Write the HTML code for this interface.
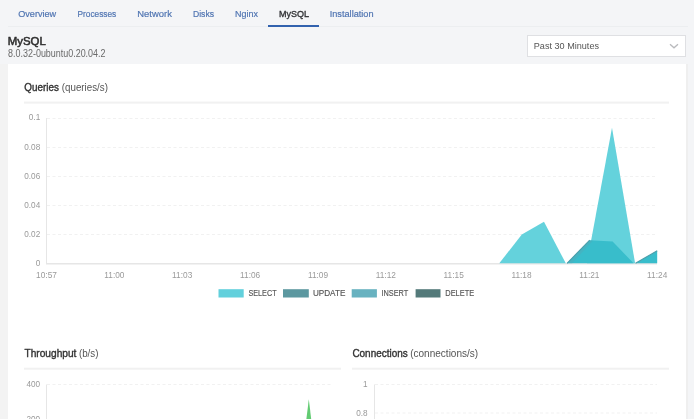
<!DOCTYPE html>
<html>
<head>
<meta charset="utf-8">
<style>
html,body{margin:0;padding:0;}
body{width:694px;height:419px;overflow:hidden;background:#f4f5f7;position:relative;font-family:"Liberation Sans",sans-serif;}
.abs{position:absolute;}
#tabline{left:8px;top:26px;width:680px;height:1px;background:#eceef0;}
#active{left:268px;top:25px;width:51px;height:2px;background:#3262ae;}
#wrap{left:0;top:64px;width:688px;height:360px;background:#f3f3f3;box-shadow:inset -2px 0 0 #efefef;}
#panel{left:8px;top:64px;width:678px;height:400px;background:#fff;}
#dd{left:527px;top:35px;width:157px;height:20px;background:#fff;border:1px solid #dfe0e3;}
svg{position:absolute;left:0;top:0;will-change:transform;}
</style>
</head>
<body>
<div class="abs" id="tabline"></div>
<div class="abs" id="active"></div>
<div class="abs" id="wrap"></div>
<div class="abs" id="panel"></div>
<div class="abs" id="dd"></div>
<svg width="694" height="419" viewBox="0 0 694 419" font-family="Liberation Sans, sans-serif">
  <!-- tabs -->
  <g font-size="9.7" fill="#5075b2" stroke="#5075b2" stroke-width="0.2">
    <text x="18.2" y="17.4" textLength="38" lengthAdjust="spacingAndGlyphs">Overview</text>
    <text x="77.5" y="17.4" textLength="38.7" lengthAdjust="spacingAndGlyphs">Processes</text>
    <text x="137.3" y="17.4" textLength="34.6" lengthAdjust="spacingAndGlyphs">Network</text>
    <text x="193" y="17.4" textLength="21" lengthAdjust="spacingAndGlyphs">Disks</text>
    <text x="235" y="17.4" textLength="22.9" lengthAdjust="spacingAndGlyphs">Nginx</text>
    <text x="279" y="17.4" textLength="30" lengthAdjust="spacingAndGlyphs" fill="#2f3033" stroke="#2f3033" stroke-width="0.35">MySQL</text>
    <text x="329.7" y="17.4" textLength="43.9" lengthAdjust="spacingAndGlyphs">Installation</text>
  </g>
  <!-- heading -->
  <text x="7.8" y="44.6" font-size="11.6" fill="#2e2e2e" stroke="#2e2e2e" stroke-width="0.55" textLength="38" lengthAdjust="spacingAndGlyphs">MySQL</text>
  <text x="8.1" y="56.8" font-size="10" fill="#6a6a6a" textLength="97.4" lengthAdjust="spacingAndGlyphs">8.0.32-0ubuntu0.20.04.2</text>
  <!-- dropdown -->
  <text x="533.8" y="48.6" font-size="9" fill="#555" textLength="65.2" lengthAdjust="spacingAndGlyphs">Past 30 Minutes</text>
  <path d="M670 44.2 L674 47.8 L678 44.2" fill="none" stroke="#b9babd" stroke-width="1.3"/>

  <!-- Queries chart -->
  <text x="24.3" y="90.6" font-size="10.7" fill="#333" stroke="#333" stroke-width="0.38" textLength="34.6" lengthAdjust="spacingAndGlyphs">Queries</text>
  <text x="61.8" y="90.6" font-size="10.7" fill="#555" textLength="46.1" lengthAdjust="spacingAndGlyphs">(queries/s)</text>
  <rect x="24" y="101.6" width="645" height="2" fill="#f1f1f1"/>

  <g stroke="#f1f1f1" stroke-width="1" stroke-dasharray="3 2.5">
    <line x1="47" y1="118.5" x2="657" y2="118.5"/>
    <line x1="47" y1="147.5" x2="657" y2="147.5"/>
    <line x1="47" y1="176.5" x2="657" y2="176.5"/>
    <line x1="47" y1="205.5" x2="657" y2="205.5"/>
    <line x1="47" y1="234.5" x2="657" y2="234.5"/>
  </g>
  <rect x="46" y="118" width="1" height="146" fill="#e6e6e6"/>
  <rect x="46" y="263" width="611" height="1.5" fill="#e6e6e6"/>

  <g font-size="8.2" fill="#999" text-anchor="end">
    <text x="40.2" y="119.9">0.1</text>
    <text x="40.2" y="149.7">0.08</text>
    <text x="40.2" y="178.7">0.06</text>
    <text x="40.2" y="207.7">0.04</text>
    <text x="40.2" y="237.2">0.02</text>
    <text x="40.2" y="266">0</text>
  </g>
  <g font-size="8.3" fill="#9a9a9a" text-anchor="middle">
    <text x="46.5" y="278">10:57</text>
    <text x="114.4" y="278">11:00</text>
    <text x="182.2" y="278">11:03</text>
    <text x="250.1" y="278">11:06</text>
    <text x="318" y="278">11:09</text>
    <text x="385.8" y="278">11:12</text>
    <text x="453.7" y="278">11:15</text>
    <text x="521.5" y="278">11:18</text>
    <text x="589.4" y="278">11:21</text>
    <text x="657.2" y="278">11:24</text>
  </g>

  <!-- areas -->
  <polygon points="499.3,263.3 521.8,234.4 544,221.8 565.8,263.3" fill="#64d2dc"/>
  <polygon points="586.9,263.3 612,127.8 635.1,263.3" fill="#64d2dc"/>
  <polygon points="567,263.3 589.7,240.2 612.6,241.6 633.6,263.3" fill="#38bdcb"/>
  <polygon points="567,263.3 589.7,240.2 593,240.4 572,263.3" fill="#55a9b9" opacity="0.45"/>
  <polyline points="567,263.3 589.7,240.2" fill="none" stroke="#4c9fab" stroke-width="1.1"/>
  <polygon points="635.5,263.3 657.2,250.7 657.2,263.3" fill="#38bdcb"/>
  <polyline points="635.5,263.3 657.2,250.7" fill="none" stroke="#4c9fab" stroke-width="1.1"/>

  <!-- legend -->
  <rect x="218.5" y="289.2" width="25.2" height="8.3" fill="#62d0dc"/>
  <rect x="283" y="289.2" width="25.8" height="8.3" fill="#5c98a0"/>
  <rect x="351.7" y="289.2" width="25.2" height="8.3" fill="#68b2c0"/>
  <rect x="415.6" y="289.2" width="24.9" height="8.3" fill="#547a7a"/>
  <g font-size="8.8" fill="#555" stroke="#555" stroke-width="0.15">
    <text x="248.4" y="296.1" textLength="28.2" lengthAdjust="spacingAndGlyphs">SELECT</text>
    <text x="312.9" y="296.1" textLength="32.5" lengthAdjust="spacingAndGlyphs">UPDATE</text>
    <text x="381.4" y="296.1" textLength="26.8" lengthAdjust="spacingAndGlyphs">INSERT</text>
    <text x="445.3" y="296.1" textLength="28.9" lengthAdjust="spacingAndGlyphs">DELETE</text>
  </g>

  <!-- Throughput -->
  <text x="24.5" y="357.4" font-size="10.7" fill="#333" stroke="#333" stroke-width="0.38" textLength="51.9" lengthAdjust="spacingAndGlyphs">Throughput</text>
  <text x="78.9" y="357.4" font-size="10.7" fill="#555" textLength="19.6" lengthAdjust="spacingAndGlyphs">(b/s)</text>
  <rect x="24" y="367.7" width="317" height="2" fill="#f1f1f1"/>
  <g stroke="#f1f1f1" stroke-width="1" stroke-dasharray="3 2.5">
    <line x1="47" y1="384.5" x2="331" y2="384.5"/>
  </g>
  <rect x="46" y="384.5" width="1" height="40" fill="#e6e6e6"/>
  <g font-size="8.2" fill="#999" text-anchor="end">
    <text x="40.2" y="386.7">400</text>
    <text x="40.2" y="422.4">200</text>
  </g>
  <polygon points="306.4,419 308.8,399.2 311.2,419" fill="#62cb72"/>

  <!-- Connections -->
  <text x="352.4" y="357.4" font-size="10.7" fill="#333" stroke="#333" stroke-width="0.38" textLength="55.3" lengthAdjust="spacingAndGlyphs">Connections</text>
  <text x="410.2" y="357.4" font-size="10.7" fill="#555" textLength="68" lengthAdjust="spacingAndGlyphs">(connections/s)</text>
  <rect x="352" y="367.7" width="317" height="2" fill="#f1f1f1"/>
  <g stroke="#f1f1f1" stroke-width="1" stroke-dasharray="3 2.5">
    <line x1="375" y1="384.5" x2="657" y2="384.5"/>
    <line x1="375" y1="413" x2="657" y2="413"/>
  </g>
  <rect x="374" y="384.5" width="1" height="40" fill="#e6e6e6"/>
  <g font-size="8.2" fill="#999" text-anchor="end">
    <text x="367.6" y="386.7">1</text>
    <text x="367.6" y="416">0.8</text>
  </g>
</svg>
</body>
</html>
